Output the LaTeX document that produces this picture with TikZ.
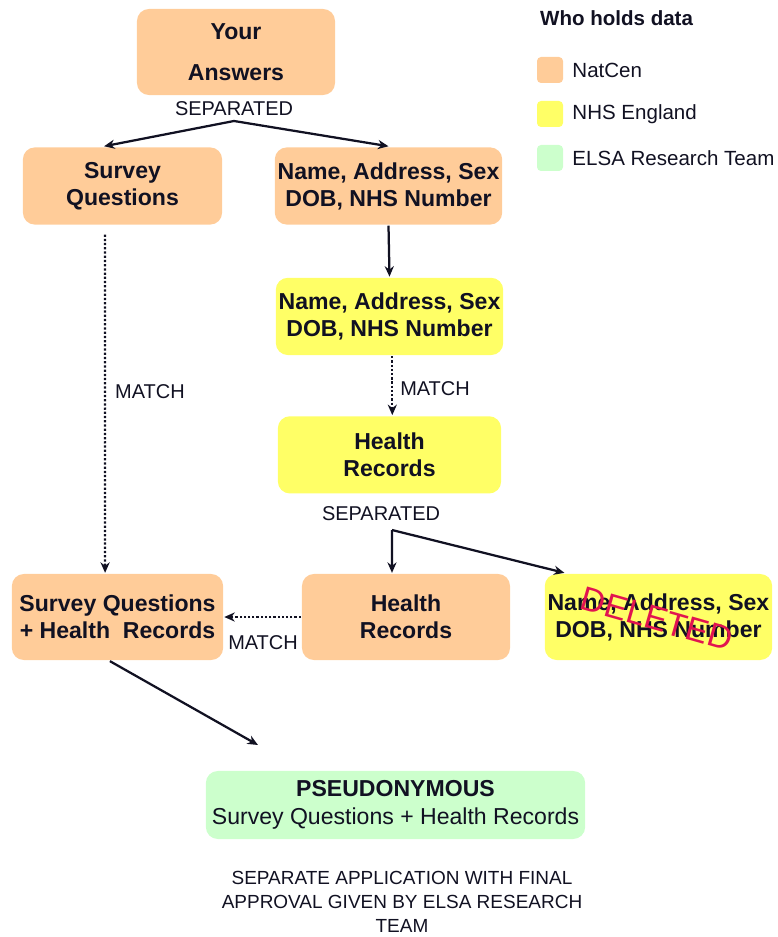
\documentclass[tikz,border=0pt]{standalone}
\usepackage{fontspec}
\setmainfont{Liberation Sans}
\usetikzlibrary{arrows.meta,positioning}
\definecolor{natcen}{RGB}{255,204,153}
\definecolor{nhs}{RGB}{255,255,102}
\definecolor{elsa}{RGB}{204,255,204}
\definecolor{ink}{RGB}{17,17,34}
\definecolor{stamp}{RGB}{225,20,80}
\newcommand{\boxfont}{\fontsize{16.4}{19.2}\selectfont\bfseries}
\newcommand{\labelfont}{\fontsize{14.2}{17}\selectfont}
\begin{document}
\begin{tikzpicture}[x=0.025cm, y=-0.025cm, color=ink, line width=1.6pt, >={Stealth[length=7.5pt, width=6.5pt]}]
    \tikzstyle{natcenbox} = [rectangle, rounded corners=0.3cm, fill=natcen, align=center, font=\boxfont, inner xsep=2pt, minimum height=1.93cm]
    \tikzstyle{nhsbox} = [rectangle, rounded corners=0.3cm, fill=nhs, align=center, font=\boxfont, inner xsep=2pt, minimum height=1.93cm]
    \tikzstyle{elsabox} = [rectangle, rounded corners=0.3cm, fill=elsa, align=center, font=\fontsize{16.4}{19.5}\selectfont]
    \tikzstyle{swatch} = [rectangle, rounded corners=0.1cm, minimum size=0.65cm, inner sep=0pt]
    \tikzstyle{legtext} = [anchor=west, inner sep=0pt, font=\fontsize{14.6}{17}\selectfont]
    \tikzstyle{matchline} = [dash pattern=on 1.6pt off 1.4pt]
    \useasboundingbox (0,0) rectangle (777,937);

    % NatCen
    \node [natcenbox, minimum width=4.95cm, minimum height=2.15cm] (answers) at (236,52) {Your\\[10pt]Answers};
    \node [natcenbox, minimum width=4.98cm] (survey) at (122.5,186) {Survey\\Questions};
    \node [natcenbox, minimum width=5.63cm] (ident) at (388.5,186) {Name, Address, Sex\\DOB, NHS Number};

    % NHS England
    \node [nhsbox, minimum width=5.58cm, below of=ident, node distance=3.26cm, xshift=0.025cm] (nhsident) {Name, Address, Sex\\DOB, NHS Number};
    \node [nhsbox, minimum width=5.58cm, below of=nhsident, node distance=3.46cm] (nhsrecords) {Health\\Records};

    % After the split
    \node [natcenbox, minimum width=5.28cm, minimum height=2.15cm] (linked) at (117.5,617) {Survey Questions\\+ Health\ \ Records};
    \node [natcenbox, minimum width=5.2cm, minimum height=2.15cm] (records) at (406,617) {Health\\Records};
    \node [nhsbox, minimum width=5.63cm, minimum height=2.15cm, right of=records, node distance=6.31cm] (deleted) {Name, Address, Sex\\DOB, NHS Number};
    \node [stamp, rotate=-16, font=\fontsize{24}{28}\selectfont] (stampmark) at (657,619) {DELETED};

    % ELSA Research Team
    \node [elsabox, minimum width=9.48cm, minimum height=1.7cm] (pseudo) at (395.5,805) {{\bfseries PSEUDONYMOUS}\\Survey Questions + Health Records};
    \node [align=center, font=\fontsize{13.5}{17}\selectfont] (approval) at (402,902) {SEPARATE APPLICATION WITH FINAL\\APPROVAL GIVEN BY ELSA RESEARCH\\TEAM};

    % Connections
    \coordinate (split1) at (234,121);
    \coordinate (split2) at (392,530);
    \coordinate (pend) at (258,745);
    \draw [->] (split1) -- ([xshift=-0.46cm]survey.north);
    \draw [->] (split1) -- (ident.north);
    \draw [->] (ident.south) -- (nhsident.north);
    \draw [->, matchline] ([xshift=0.07cm]nhsident.south) -- ([xshift=0.07cm]nhsrecords.north);
    \draw [->] (split2) -- ([xshift=-0.35cm]records.north);
    \draw [->] (split2) -- ([xshift=0.52cm]deleted.north west);
    \draw [->, matchline] (records.west) -- (linked.east);
    \draw [->, matchline] ([xshift=-0.44cm, yshift=-0.22cm]survey.south) -- ([xshift=-0.31cm]linked.north);
    \draw [->] ([xshift=-0.19cm]linked.south) -- (pend);

    % Labels
    \node [font=\labelfont] (sep1) at (234,109) {SEPARATED};
    \node [font=\labelfont] (sep2) at (381,514) {SEPARATED};
    \node [font=\labelfont] (match1) at (150,392) {MATCH};
    \node [font=\labelfont] (match2) at (435,389) {MATCH};
    \node [font=\labelfont] (match3) at (263,643) {MATCH};

    % Legend
    \node [anchor=west, inner sep=0pt, font=\fontsize{14.6}{17}\selectfont\bfseries] (legtitle) at (539,18) {Who holds data};
    \node [swatch, fill=natcen] (swnatcen) at (550,70) {};
    \node [swatch, fill=nhs] (swnhs) at (550,114) {};
    \node [swatch, fill=elsa] (swelsa) at (550,158) {};
    \node [legtext, right=0.18cm of swnatcen] (lgnatcen) {NatCen};
    \node [legtext, right=0.18cm of swnhs] (lgnhs) {NHS England};
    \node [legtext, right=0.18cm of swelsa] (lgelsa) {ELSA Research Team};
\end{tikzpicture}
\end{document}
